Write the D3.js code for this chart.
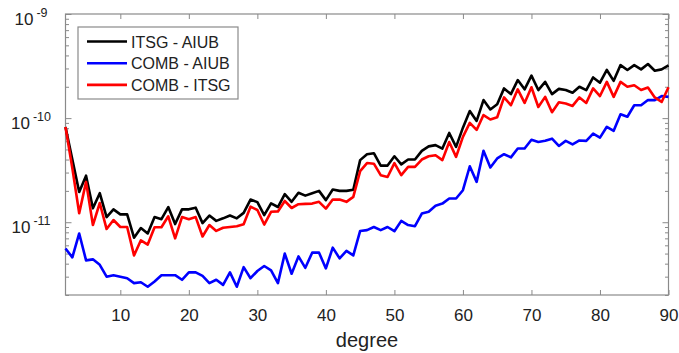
<!DOCTYPE html>
<html>
<head>
<meta charset="utf-8">
<script src="https://cdn.jsdelivr.net/npm/d3@7"></script>
<style>
  body { margin: 0; background: #fff; }
  svg { display: block; }
  text { font-family: "Liberation Sans", Arial, Helvetica, sans-serif; fill: #222; }
</style>
</head>
<body>
<svg id="chart" width="679" height="353"></svg>
<script>
// Spherical-harmonic degree
const degrees = [
  2, 3, 4, 5, 6, 7, 8, 9,
  10, 11, 12, 13, 14, 15, 16, 17, 18, 19,
  20, 21, 22, 23, 24, 25, 26, 27, 28, 29,
  30, 31, 32, 33, 34, 35, 36, 37, 38, 39,
  40, 41, 42, 43, 44, 45, 46, 47, 48, 49,
  50, 51, 52, 53, 54, 55, 56, 57, 58, 59,
  60, 61, 62, 63, 64, 65, 66, 67, 68, 69,
  70, 71, 72, 73, 74, 75, 76, 77, 78, 79,
  80, 81, 82, 83, 84, 85, 86, 87, 88, 89,
  90
];

// Degree difference amplitudes
const itsgAiub = [
  8.2e-11, 4.0e-11, 1.95e-11, 2.8e-11, 1.36e-11, 1.9e-11, 1.12e-11, 1.33e-11,
  1.19e-11, 1.19e-11, 7.1e-12, 8.8e-12, 7.8e-12, 1.12e-11, 1.07e-11, 1.40e-11, 9.6e-12, 1.33e-11,
  1.33e-11, 1.38e-11, 9.8e-12, 1.16e-11, 1.03e-11, 1.09e-11, 1.16e-11, 1.09e-11, 1.23e-11, 1.65e-11,
  1.56e-11, 1.17e-11, 1.52e-11, 1.40e-11, 1.86e-11, 1.57e-11, 1.92e-11, 1.80e-11, 1.90e-11, 2.0e-11,
  1.63e-11, 2.06e-11, 2.0e-11, 2.0e-11, 2.05e-11, 3.95e-11, 4.5e-11, 4.6e-11, 3.5e-11, 3.5e-11,
  4.3e-11, 3.6e-11, 4.0e-11, 4.0e-11, 4.85e-11, 5.35e-11, 5.5e-11, 5.1e-11, 7.2e-11, 5.3e-11,
  8.1e-11, 1.17e-10, 9.4e-11, 1.49e-10, 1.21e-10, 1.36e-10, 1.93e-10, 1.70e-10, 2.32e-10, 1.89e-10,
  2.56e-10, 1.86e-10, 2.23e-10, 1.70e-10, 1.91e-10, 1.86e-10, 1.75e-10, 2.0e-10, 1.86e-10, 2.46e-10,
  2.19e-10, 2.9e-10, 2.28e-10, 3.23e-10, 2.9e-10, 3.23e-10, 2.94e-10, 3.31e-10, 2.85e-10, 2.94e-10,
  3.21e-10
];

const combAiub = [
  5.6e-12, 4.6e-12, 7.8e-12, 4.3e-12, 4.4e-12, 3.9e-12, 3.0e-12, 3.1e-12,
  3.0e-12, 2.9e-12, 2.6e-12, 2.65e-12, 2.4e-12, 2.7e-12, 3.1e-12, 3.1e-12, 3.1e-12, 2.8e-12,
  3.3e-12, 3.3e-12, 3.05e-12, 2.6e-12, 2.8e-12, 2.5e-12, 3.3e-12, 2.4e-12, 3.7e-12, 2.9e-12,
  3.4e-12, 3.8e-12, 3.45e-12, 2.6e-12, 5.0e-12, 3.2e-12, 4.7e-12, 3.65e-12, 5.1e-12, 5.1e-12,
  3.6e-12, 5.7e-12, 4.5e-12, 5.3e-12, 4.8e-12, 8.25e-12, 8.4e-12, 9.0e-12, 8.4e-12, 9.0e-12,
  8.2e-12, 1.03e-11, 9.4e-12, 9.15e-12, 1.21e-11, 1.26e-11, 1.44e-11, 1.51e-11, 1.69e-11, 1.69e-11,
  2.03e-11, 3.45e-11, 2.44e-11, 4.85e-11, 3.36e-11, 4.1e-11, 4.5e-11, 4.2e-11, 5.1e-11, 5.1e-11,
  6.2e-11, 5.9e-11, 6.05e-11, 6.35e-11, 5.4e-11, 6.05e-11, 5.6e-11, 6.1e-11, 6.05e-11, 7.1e-11,
  6.5e-11, 8.25e-11, 7.55e-11, 1.09e-10, 1.03e-10, 1.33e-10, 1.33e-10, 1.49e-10, 1.49e-10, 1.63e-10,
  1.60e-10
];

const combItsg = [
  8.2e-11, 3.3e-11, 1.22e-11, 2.44e-11, 9.4e-12, 1.53e-11, 8.6e-12, 1.05e-11,
  9.0e-12, 9.0e-12, 4.8e-12, 6.7e-12, 6.1e-12, 8.95e-12, 8.95e-12, 1.14e-11, 7.0e-12, 1.12e-11,
  1.07e-11, 1.12e-11, 7.3e-12, 9.4e-12, 8.25e-12, 8.85e-12, 9.0e-12, 9.15e-12, 9.57e-12, 1.41e-11,
  1.31e-11, 9.5e-12, 1.26e-11, 1.27e-11, 1.60e-11, 1.37e-11, 1.49e-11, 1.50e-11, 1.51e-11, 1.57e-11,
  1.35e-11, 1.65e-11, 1.65e-11, 1.57e-11, 1.75e-11, 3.1e-11, 3.7e-11, 3.65e-11, 2.83e-11, 2.72e-11,
  3.7e-11, 2.83e-11, 3.4e-11, 3.4e-11, 4.0e-11, 4.3e-11, 4.4e-11, 3.95e-11, 5.9e-11, 4.24e-11,
  6.6e-11, 9.0e-11, 7.7e-11, 1.07e-10, 9.7e-11, 1.02e-10, 1.58e-10, 1.33e-10, 1.89e-10, 1.40e-10,
  1.98e-10, 1.28e-10, 1.60e-10, 1.14e-10, 1.42e-10, 1.38e-10, 1.31e-10, 1.58e-10, 1.40e-10, 1.93e-10,
  1.63e-10, 2.23e-10, 1.60e-10, 2.23e-10, 2.0e-10, 2.07e-10, 1.86e-10, 1.97e-10, 1.58e-10, 1.43e-10,
  1.98e-10
];

const seriesNames = ["ITSG - AIUB", "COMB - AIUB", "COMB - ITSG"];
const seriesColors = ["#000000", "#0000ff", "#ff0000"];
const seriesValues = [itsgAiub, combAiub, combItsg];

const xTicks = [10, 20, 30, 40, 50, 60, 70, 80, 90];
const yMajorTicks = [1e-11, 1e-10, 1e-9];
const yTickExponents = ["-11", "-10", "-9"];
const xDomain = [2, 90];
const yDomain = [2e-12, 1e-9];
const xTitle = "degree";

// ---- layout ----
const W = 679, H = 353;
const plot = { left: 65.5, right: 668.5, top: 14, bottom: 295 };
const frameColor = "#8a8a8a";

const svg = d3.select("#chart");

const x = d3.scaleLinear().domain(xDomain).range([plot.left, plot.right]);
const y = d3.scaleLog().domain(yDomain).range([plot.bottom, plot.top]);

// minor log ticks (2..9 times each decade) inside the domain
const yMinorTicks = y.ticks().filter(v => yMajorTicks.indexOf(v) < 0 &&
  v >= yDomain[0] * 0.999 && v <= yDomain[1] * 1.001);

function styleAxis(g) {
  g.select(".domain").remove();
  g.selectAll(".tick line").attr("stroke", frameColor).attr("stroke-width", 1);
}

// bottom axis with labels
svg.append("g")
  .attr("transform", `translate(0,${plot.bottom})`)
  .call(d3.axisBottom(x).tickValues(xTicks).tickSizeInner(-5).tickSizeOuter(0).tickPadding(14))
  .call(styleAxis)
  .call(g => g.selectAll("text").attr("font-size", 17).attr("fill", "#222")
    .attr("font-family", '"Liberation Sans", Arial, sans-serif'));

// top axis (ticks only)
svg.append("g")
  .attr("transform", `translate(0,${plot.top})`)
  .call(d3.axisTop(x).tickValues(xTicks).tickSizeInner(-5).tickSizeOuter(0).tickFormat(""))
  .call(styleAxis);

// left axis: minor + major ticks
svg.append("g")
  .attr("transform", `translate(${plot.left},0)`)
  .call(d3.axisLeft(y).tickValues(yMinorTicks).tickSizeInner(-3.5).tickSizeOuter(0).tickFormat(""))
  .call(styleAxis);

const leftMajor = svg.append("g")
  .attr("transform", `translate(${plot.left},0)`)
  .call(d3.axisLeft(y).tickValues(yMajorTicks).tickSizeInner(-6).tickSizeOuter(0).tickFormat(""))
  .call(styleAxis);

// right axis: minor + major ticks
svg.append("g")
  .attr("transform", `translate(${plot.right},0)`)
  .call(d3.axisRight(y).tickValues(yMinorTicks).tickSizeInner(-3.5).tickSizeOuter(0).tickFormat(""))
  .call(styleAxis);
svg.append("g")
  .attr("transform", `translate(${plot.right},0)`)
  .call(d3.axisRight(y).tickValues(yMajorTicks).tickSizeInner(-6).tickSizeOuter(0).tickFormat(""))
  .call(styleAxis);

// y labels as 10 with a superscript exponent
const yLabels = svg.append("g").selectAll("text")
  .data(yMajorTicks)
  .join("text")
  .attr("x", 31)
  .attr("y", d => y(d) + 11)
  .attr("text-anchor", "middle");
yLabels.append("tspan").attr("font-size", 17).text("10");
yLabels.append("tspan").attr("font-size", 12.5).attr("dx", 3).attr("dy", -8)
  .text((d, i) => yTickExponents[i]);

// plot frame
svg.append("rect")
  .attr("x", plot.left).attr("y", plot.top)
  .attr("width", plot.right - plot.left).attr("height", plot.bottom - plot.top)
  .attr("fill", "none").attr("stroke", frameColor).attr("stroke-width", 1.2);

// data lines
const line = d3.line()
  .x((d, i) => x(degrees[i]))
  .y(d => y(d));

svg.append("g").selectAll("path")
  .data(seriesValues)
  .join("path")
  .attr("d", line)
  .attr("fill", "none")
  .attr("stroke", (d, i) => seriesColors[i])
  .attr("stroke-width", 2.6)
  .attr("stroke-linejoin", "round");

// x title
svg.append("text")
  .attr("x", (plot.left + plot.right) / 2)
  .attr("y", 347)
  .attr("text-anchor", "middle")
  .attr("font-size", 20)
  .text(xTitle);

// legend
const legend = svg.append("g");
legend.append("rect")
  .attr("x", 78).attr("y", 27).attr("width", 160).attr("height", 72)
  .attr("fill", "#fff").attr("stroke", frameColor).attr("stroke-width", 1.2);
const rows = legend.selectAll("g.row")
  .data(seriesNames)
  .join("g")
  .attr("class", "row")
  .attr("transform", (d, i) => `translate(0,${41.5 + i * 21.7})`);
rows.append("line")
  .attr("x1", 87).attr("x2", 127)
  .attr("stroke", (d, i) => seriesColors[i])
  .attr("stroke-width", 2.6);
rows.append("text")
  .attr("x", 131).attr("y", 6)
  .attr("font-size", 16)
  .text(d => d);
</script>
</body>
</html>
